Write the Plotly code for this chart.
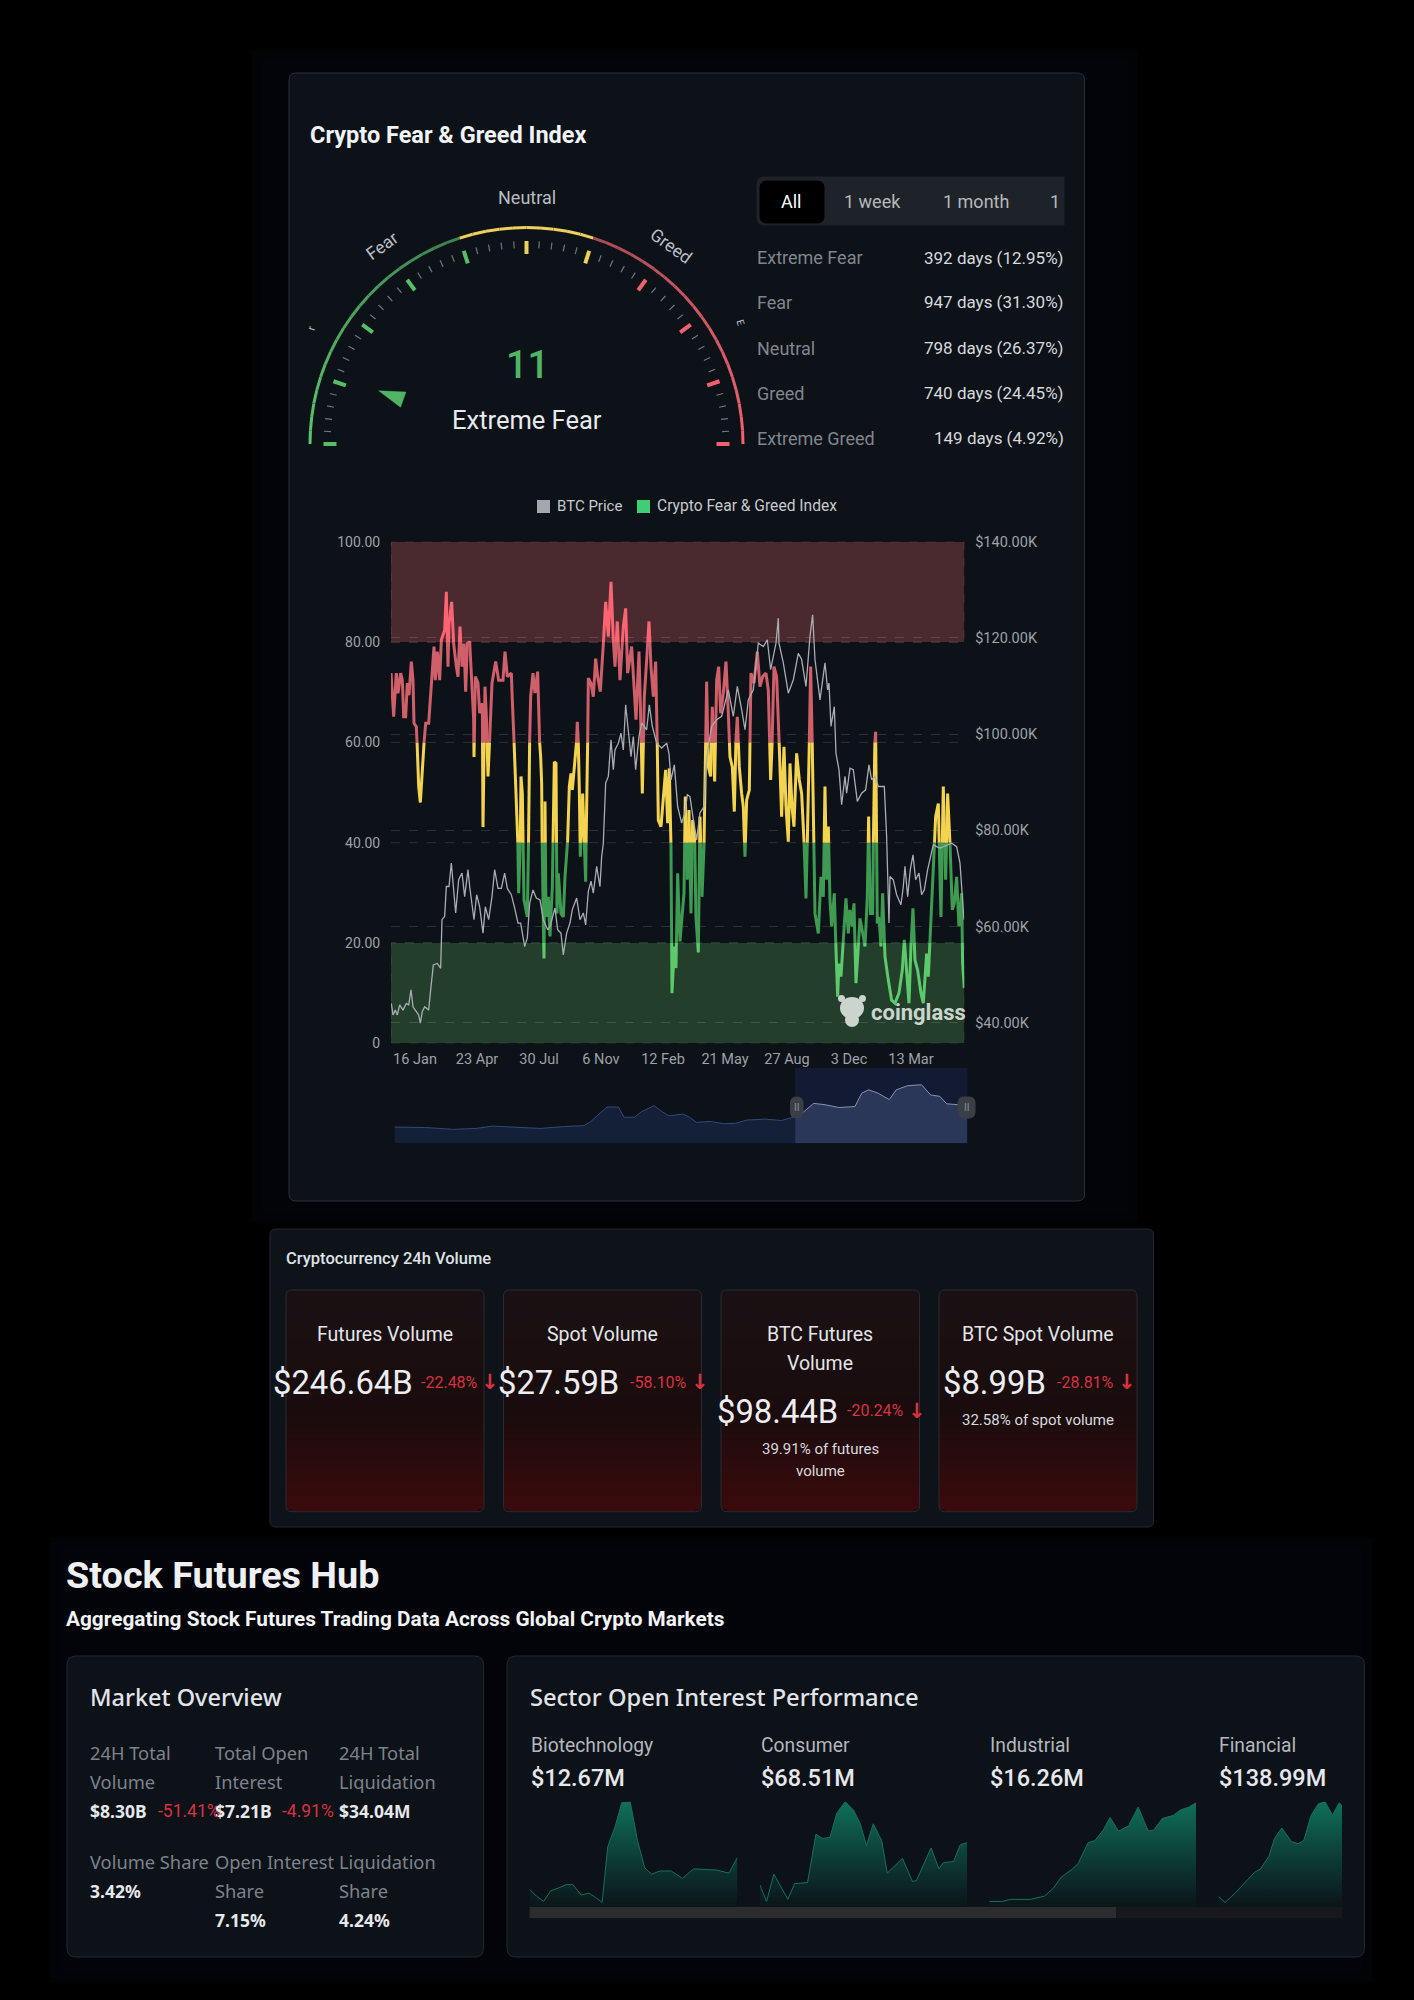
import math
import numpy as np
import plotly.graph_objects as go

W, H = 1414, 2000

# ---------- data ----------
gauge_value = 11
gauge_label = "Extreme Fear"
dist_names = ["Extreme Fear", "Fear", "Neutral", "Greed", "Extreme Greed"]
dist_values = ["392 days (12.95%)", "947 days (31.30%)", "798 days (26.37%)", "740 days (24.45%)", "149 days (4.92%)"]
tab_labels = ["All", "1 week", "1 month", "1"]

x_tick_pos = [72, 258, 444, 630, 816, 1002, 1188, 1374, 1560]
x_tick_text = ["16 Jan", "23 Apr", "30 Jul", "6 Nov", "12 Feb", "21 May", "27 Aug", "3 Dec", "13 Mar"]
left_ticks = [0, 20, 40, 60, 80, 100]
left_tick_text = ["0", "20.00", "40.00", "60.00", "80.00", "100.00"]
right_ticks = [40, 60, 80, 100, 120, 140]
right_tick_text = ["$40.00K", "$60.00K", "$80.00K", "$100.00K", "$120.00K", "$140.00K"]

fg_t = [0,8,16,21,29,34,38,44,49,54,61,66,69,76,81,83,88,94,99,104,113,119,124,129,133,139,146,151,161,166,171,174,182,188,196,201,207,213,219,224,229,236,241,248,249,253,261,266,274,276,282,287,291,299,303,314,323,336,342,349,361,363,369,373,379,383,388,390,394,399,409,414,416,419,426,431,
        432,440,446,449,452,455,459,462,465,472,477,484,490,495,498,502,510,517,522,530,535,540,544,550,556,559,562,565,568,575,579,584,587,590,592,600,607,614,620,628,635,644,652,660,667,672,679,687,697,704,710,722,730,735,744,750,754,760,767,774,780,787,794,799,802,810,817,824,830,835,840,843,850,855,860,867,
        879,883,889,894,900,905,911,915,922,927,933,939,947,952,959,964,971,977,983,989,997,1005,1012,1017,1024,1030,1035,1039,1045,1052,1057,1062,1067,1075,1080,1089,1099,1107,1115,1125,1132,1139,1143,1149,1157,1165,1172,1179,1185,1192,1197,1203,1209,1217,1225,1232,1239,1245,1252,1259,1264,1272,1282,1290,1297,
        1302,1307,1312,1317,1322,1330,1335,1340,1344,1350,1357,1365,1372,1377,1384,1389,1395,1402,1407,1417,1422,1429,1433,1438,1445,1450,1454,1459,1464,1470,1475,1482,1492,1502,1512,1524,1534,1540,1547,1554,1560,1566,1572,1580,1590,1597,1607,1612,1618,1627,1634,1642,1650,1657,1664,1670,1677,1684,1690,1697,1704,1712,1715,1720]
fg_val = [73.8,65.1,73.8,69.8,73.8,72.4,65.1,65.1,71.8,69.4,76.1,72.4,63.8,63.1,56.1,51.2,48.0,54.2,59.8,63.8,63.8,69.8,73.1,79.1,72.4,78.1,72.4,80.4,82.4,90.0,75.1,83.7,88.0,79.7,75.1,73.1,83.1,75.1,79.7,70.1,79.7,80.1,74.4,64.5,57.1,73.1,71.8,65.8,67.8,43.1,71.1,63.8,53.2,65.1,71.8,76.1,72.4,72.4,78.1,73.1,73.8,70.1,60.5,53.2,45.8,29.9,40.5,53.2,49.8,28.6,25.2,45.8,60.5,69.1,73.8,69.8,
         69.8,74.1,59.8,57.1,51.8,29.2,16.9,48.2,25.2,29.2,21.3,31.2,56.1,55.8,25.9,33.9,25.9,25.2,33.2,40.5,51.2,53.8,50.5,54.5,59.1,64.1,59.8,50.5,37.2,49.8,41.9,32.2,49.8,59.8,72.8,71.8,69.1,76.7,73.1,70.1,77.1,88.0,81.1,92.0,80.4,75.1,84.1,72.4,83.1,86.7,73.8,79.1,70.4,64.5,78.1,63.1,49.8,69.1,76.4,84.1,75.1,69.1,76.1,59.1,44.5,43.2,49.2,54.5,43.9,54.8,39.2,10.0,19.3,15.0,33.9,20.3,
         29.9,49.2,32.6,46.5,25.9,44.5,40.5,25.2,18.1,45.2,29.2,39.2,72.1,55.1,53.2,67.1,52.2,72.4,75.1,65.8,69.8,76.1,65.8,57.1,55.1,46.2,60.5,65.1,55.1,49.8,47.2,37.2,48.5,50.5,73.8,71.8,78.1,71.1,73.1,73.8,70.4,52.5,59.1,75.1,73.1,59.1,45.2,59.1,47.2,40.2,55.8,47.2,43.2,57.8,52.5,49.8,40.5,28.9,48.5,75.1,59.1,25.9,21.9,33.2,29.2,
         51.2,32.6,43.2,28.6,23.3,29.9,18.6,9.3,15.9,13.3,20.6,28.9,21.9,26.6,23.3,27.9,12.0,19.3,24.9,21.3,19.3,29.2,45.2,25.9,25.9,58.5,62.1,23.9,25.2,19.3,29.9,17.3,12.6,8.6,8.0,10.0,14.6,20.6,14.0,8.0,19.3,26.9,16.6,14.6,10.0,8.0,17.9,13.3,21.9,34.6,45.2,47.8,25.2,51.2,32.6,49.8,39.9,26.6,27.9,33.2,23.3,29.9,15.9,11.0]

btc_t = [1,6,13,19,26,36,46,53,60,66,76,83,88,94,101,113,119,127,139,149,153,161,166,174,181,188,194,203,213,221,231,236,249,257,266,276,283,293,303,311,321,331,341,349,361,371,381,389,396,401,409,416,426,436,
         447,457,470,477,492,500,510,517,527,537,544,557,567,577,584,592,600,607,617,627,632,637,644,652,660,667,672,682,690,697,704,712,720,727,734,744,752,767,775,784,797,812,827,834,840,850,860,872,882,
         889,897,907,917,927,939,945,952,962,977,992,1012,1027,1039,1052,1062,1072,1087,1102,1117,1129,1139,1155,1162,1164,1177,1192,1207,1222,1232,1245,1257,1265,1272,1287,1302,
         1310,1314,1320,1330,1335,1344,1352,1362,1367,1377,1387,1399,1412,1424,1434,1442,1452,1462,1480,1487,1494,1497,1507,1517,1530,1537,1542,1550,1558,1566,1574,1584,1592,1600,1610,1620,1627,1637,1647,1682,1697,1707,1714,1719]
btc_val = [44.0,41.6,42.6,41.6,43.7,42.6,44.0,43.7,46.8,43.3,42.3,41.6,39.9,42.3,43.3,42.6,46.8,52.0,52.3,51.3,61.4,62.1,68.3,68.3,73.2,67.6,62.8,69.7,71.1,66.2,71.8,68.3,61.4,66.6,64.1,58.6,64.1,61.4,66.2,71.8,67.9,67.9,71.1,67.9,66.6,63.8,60.7,60.7,57.9,55.8,57.6,64.8,67.6,65.9,
           65.5,61.4,59.3,60.0,63.8,59.3,58.6,54.1,58.6,60.7,63.5,65.9,61.4,62.8,60.3,67.3,69.4,66.9,72.5,68.3,74.5,77.3,89.8,91.2,98.8,92.6,96.7,98.1,100.2,96.7,106.1,100.9,95.3,99.5,92.6,99.5,102.3,100.9,106.1,101.6,98.1,97.1,98.1,96.0,90.5,93.6,84.9,81.5,83.6,
           87.4,87.0,82.2,78.0,83.6,84.9,93.3,97.4,101.6,103.0,103.7,109.2,103.7,109.9,105.1,100.9,107.1,109.2,118.9,118.2,119.6,113.4,118.9,124.1,118.9,114.8,108.5,111.3,116.8,115.5,109.9,120.3,124.8,115.5,107.1,114.8,
           109.2,110.6,101.6,105.7,96.0,92.6,85.3,91.2,87.7,92.9,92.6,86.0,87.7,88.4,93.6,90.5,91.2,89.1,89.1,78.7,60.7,70.4,69.7,66.6,64.5,68.3,72.5,66.2,71.8,74.9,69.7,71.1,66.6,67.6,71.8,74.5,77.0,76.6,76.3,77.3,76.6,73.2,66.2,61.4]

mini_t = [162,230,290,340,375,430,480,530,575,590,605,625,650,662,685,700,728,745,760,790,805,820,850,880,905,930,970,1005,1030,1035,
          1045,1060,1075,1100,1130,1165,1180,1195,1215,1240,1255,1280,1310,1330,1350,1365,1390,1398,1410]
mini_val = [35,34,30,32,37,35,32,36,38,47,61,78,78,56,56,68,81,68,59,63,56,45,47,42,43,50,52,49,56,58,
            61,73,86,83,77,79,108,115,108,94,115,124,126,104,101,85,83,90,85]
mini_split = 1035

card_titles = [["Futures Volume"], ["Spot Volume"], ["BTC Futures", "Volume"], ["BTC Spot Volume"]]
card_values = ["$246.64B", "$27.59B", "$98.44B", "$8.99B"]
card_changes = ["-22.48%", "-58.10%", "-20.24%", "-28.81%"]
card_notes = [[], [], ["39.91% of futures", "volume"], ["32.58% of spot volume"]]

overview_labels = [["24H Total", "Volume"], ["Total Open", "Interest"], ["24H Total", "Liquidation"],
                   ["Volume Share"], ["Open Interest", "Share"], ["Liquidation", "Share"]]
overview_values = ["$8.30B", "$7.21B", "$34.04M", "3.42%", "7.15%", "4.24%"]
overview_changes = ["-51.41%", "-4.91%", "", "", "", ""]

sector_names = ["Biotechnology", "Consumer", "Industrial", "Financial"]
sector_values = ["$12.67M", "$68.51M", "$16.26M", "$138.99M"]
bio_t = [53,65,78,90,105,118,130,145,158,170,182,192,205,217,232,245,258,270,285,305,325,345,385,408,423]
bio_v = [16.5,10,5,15,18,21,21,11,13,9,4,57,76,99,100,63,37,31,34,34,27,36,35,32,47]
con_t = [463,475,488,500,513,525,548,563,575,588,600,615,630,642,653,665,680,690,717,735,742,768,782,790,808,820,832]
con_v = [21,5,31,19,7,22,23,69,65,66,89,100,92,79,58,79,63,32,46,24,25,56,36,42,43,59,61]
ind_t = [872,895,910,945,970,985,1000,1020,1030,1048,1060,1075,1087,1102,1120,1137,1155,1165,1180,1200,1212,1228,1240]
ind_v = [5,5,7,7,10,17,28,36,41,61,63,73,85,72,77,95,72,73,84,87,92,95,99]
fin_t = [1280,1292,1310,1330,1345,1355,1370,1380,1393,1410,1422,1432,1445,1458,1470,1483,1495,1500]
fin_v = [10,4,13,24,33,36,48,65,75,62,60,63,87,98,100,87,99,96]

# ---------- helpers ----------
FONT = "Roboto"
SANS = "Noto Sans"
PANEL = "#0d1118"
BORDER = "#262a31"
RED = "#d8323f"

def px(x): return x / W
def py(y): return 1 - y / H
def dom_x(a, b): return [a / W, b / W]
def dom_y(top, bottom): return [1 - bottom / H, 1 - top / H]

shapes, notes = [], []

def rrect(x0, y0, x1, y1, r=8, fill=PANEL, line=BORDER, lw=1, layer="below"):
    a, b, c, d = px(x0), py(y0), px(x1), py(y1)
    rx, ry = r / W, r / H
    path = (f"M{a+rx},{b} L{c-rx},{b} Q{c},{b} {c},{b-ry} L{c},{d+ry} Q{c},{d} {c-rx},{d} "
            f"L{a+rx},{d} Q{a},{d} {a},{d+ry} L{a},{b-ry} Q{a},{b} {a+rx},{b} Z")
    shapes.append(dict(type="path", xref="paper", yref="paper", path=path, fillcolor=fill,
                       line=dict(color=line, width=lw), layer=layer))

def rect(x0, y0, x1, y1, fill, layer="below"):
    shapes.append(dict(type="rect", xref="paper", yref="paper", x0=px(x0), x1=px(x1), y0=py(y1), y1=py(y0),
                       fillcolor=fill, line=dict(width=0), layer=layer))

def oval(x0, y0, x1, y1, fill, layer="above"):
    shapes.append(dict(type="circle", xref="paper", yref="paper", x0=px(x0), x1=px(x1), y0=py(y1), y1=py(y0),
                       fillcolor=fill, line=dict(width=0), layer=layer))

def text(x, y, s, size, color, anchor="left", family=FONT, weight=400, angle=0):
    notes.append(dict(xref="paper", yref="paper", x=px(x), y=py(y), text=s, showarrow=False,
                      xanchor=anchor, yanchor="middle", textangle=angle, borderpad=0, borderwidth=0,
                      font=dict(family=family, size=size, color=color, weight=weight)))

def mix(c1, c2, t):
    a = [int(c1[i:i+2], 16) for i in (1, 3, 5)]
    b = [int(c2[i:i+2], 16) for i in (1, 3, 5)]
    return "#%02x%02x%02x" % tuple(round(a[i] + (b[i] - a[i]) * t) for i in range(3))

def clip_band(t, v, lo, hi):
    xs, ys, last = [], [], None
    for i in range(len(t) - 1):
        t0, v0, t1, v1 = t[i], v[i], t[i + 1], v[i + 1]
        if max(v0, v1) < lo or min(v0, v1) > hi or v0 == v1 and not (lo <= v0 <= hi):
            continue
        def at(val): return t0 + (val - v0) / (v1 - v0) * (t1 - t0)
        a = (t0, v0)
        if v0 < lo: a = (at(lo), lo)
        if v0 > hi: a = (at(hi), hi)
        b = (t1, v1)
        if v1 < lo: b = (at(lo), lo)
        if v1 > hi: b = (at(hi), hi)
        if last != a:
            xs.append(None); ys.append(None)
            xs.append(a[0]); ys.append(a[1])
        xs.append(b[0]); ys.append(b[1])
        last = b
    return xs, ys

fig = go.Figure()

# ---------- page panels ----------
for grow, col in [(10, "#020306"), (0, "#03040a")]:
    rect(262 - grow, 60 - grow, 1128 + grow, 1212 + grow, col)
    rect(60 - grow, 1548 - grow, 1362 + grow, 1972 + grow, col)
rrect(289, 73, 1084.5, 1201, r=7, fill=PANEL, line="#2a2f36")
rrect(270, 1229, 1153.5, 1527, r=6, fill="#0e1219", line="#23272e")
rrect(67, 1656, 483.5, 1957, r=9, fill=PANEL, line="#23272e")
rrect(507, 1656, 1364.5, 1957, r=9, fill=PANEL, line="#23272e")

# ---------- gauge ----------
text(310, 135, "Crypto Fear & Greed Index", 23.5, "#f1f3f5", weight=700)
R_ARC = 216.5

def pol(v, r):
    th = math.pi * (1 - np.asarray(v, dtype=float) / 100)
    return r * np.cos(th), r * np.sin(th)

def arc_color(v):
    if v < 40:
        return mix("#5cc76c", "#3f7f50", v / 40)
    if v < 60:
        return "#ecd05c"
    return mix("#a44d57", "#f4626f", (v - 60) / 40)

for v0 in range(0, 100, 2):
    vs = np.linspace(v0, v0 + 2, 4)
    ax_, ay_ = pol(vs, R_ARC)
    fig.add_trace(go.Scatter(x=ax_, y=ay_, mode="lines", line=dict(color=arc_color(v0 + 1), width=3),
                             xaxis="x", yaxis="y", hoverinfo="skip", showlegend=False))

mx, my = [], []
for v in range(0, 101, 2):
    if v % 10:
        a1, b1 = pol(v, 196)
        a2, b2 = pol(v, 203)
        mx += [a1, a2, None]; my += [b1, b2, None]
fig.add_trace(go.Scatter(x=mx, y=my, mode="lines", line=dict(color="#72767c", width=1.2),
                         xaxis="x", yaxis="y", hoverinfo="skip", showlegend=False))
for v in range(0, 101, 10):
    col = "#58bd69" if v <= 40 else ("#ecd05c" if v <= 60 else "#f0606e")
    a1, b1 = pol(v, 190)
    a2, b2 = pol(v, 203)
    fig.add_trace(go.Scatter(x=[a1, a2], y=[b1, b2], mode="lines", line=dict(color=col, width=4),
                             xaxis="x", yaxis="y", hoverinfo="skip", showlegend=False))

tipx, tipy = pol(gauge_value, 157)
bx, by = pol(gauge_value, 131)
th = math.pi * (1 - gauge_value / 100)
nx, ny = -math.sin(th) * 8, math.cos(th) * 8
fig.add_trace(go.Scatter(x=[tipx, bx + nx, bx - nx, tipx], y=[tipy, by + ny, by - ny, tipy], mode="lines",
                         fill="toself", fillcolor="#4fb565", line=dict(color="#4fb565", width=0.5),
                         xaxis="x", yaxis="y", hoverinfo="skip", showlegend=False))

text(527, 198, "Neutral", 18, "#b9bdc3", "center")
text(382, 246, "Fear", 17.5, "#b9bdc3", "center", angle=-36)
text(671, 246, "Greed", 17.5, "#b9bdc3", "center", angle=36)
text(311, 328, "r", 11, "#b9bdc3", "center", angle=-72)
text(740, 323, "E", 10, "#b9bdc3", "center", angle=72)
text(527, 364.5, str(gauge_value), 38, "#4fb565", "center", weight=500)
text(527, 420, gauge_label, 25.5, "#e8eaed", "center")

# tabs and distribution table
rrect(757, 177, 1075, 225, r=7, fill="#1e2329", line="#1e2329")
rect(1064.5, 170, 1084, 232, PANEL)
rrect(760, 181, 824, 223, r=7, fill="#000000", line="#000000")
for s, xc, c in zip(tab_labels, [791.5, 872.6, 975.6, 1055], ["#ffffff", "#b4b8bd", "#b4b8bd", "#b4b8bd"]):
    text(xc, 201, s, 18, c, "center")
for s, val, yy in zip(dist_names, dist_values, [257.7, 302.3, 348.3, 393.3, 438.3]):
    text(757, yy, s, 18, "#80868e")
    text(1064, yy, val, 17, "#d6d9dd", "right")

# ---------- main chart ----------
rect(537, 500, 550, 513, "#a4a7ab")
text(556.5, 506, "BTC Price", 15, "#c6c9cd")
rect(637, 500, 650, 513, "#3ecf74")
text(656.5, 506, "Crypto Fear & Greed Index", 15.6, "#c6c9cd")

shapes.append(dict(type="rect", xref="x2", yref="y2", x0=0, x1=1720, y0=80, y1=100, fillcolor="#4a2a2e",
                   line=dict(color="#6b4044", width=1, dash="dash"), layer="below"))
shapes.append(dict(type="rect", xref="x2", yref="y2", x0=0, x1=1720, y0=0, y1=20, fillcolor="#233e2b",
                   line=dict(color="#38563f", width=1, dash="dash"), layer="below"))

bands = [(0, 20, "#5cc96a", "Extreme Fear"), (20, 40, "#3f9b52", "Fear"), (40, 60, "#f4d34f", "Neutral"),
         (60, 80, "#cf5f69", "Greed"), (80, 100, "#fb6473", "Extreme Greed")]
for lo, hi, col, nm in bands:
    bx_, by_ = clip_band(fg_t, fg_val, lo, hi)
    fig.add_trace(go.Scatter(x=bx_, y=by_, mode="lines", line=dict(color=col, width=3), name=nm,
                             xaxis="x2", yaxis="y2", hoverinfo="skip", showlegend=False, connectgaps=False))
fig.add_trace(go.Scatter(x=btc_t, y=btc_val, mode="lines", line=dict(color="#a9adb2", width=1.3), name="BTC Price",
                         xaxis="x2", yaxis="y3", hoverinfo="skip", showlegend=False))

# watermark
LOGO = "#ccd4ce"
oval(840, 997, 864, 1019, LOGO)
oval(845, 1013, 859, 1027, LOGO)
oval(838, 995, 845, 1002, LOGO)
oval(859, 995, 866, 1002, LOGO)
text(918, 1013, "coinglass", 22, LOGO, "center", weight=700)

# ---------- overview slider ----------
rect(795, 1068, 967.4, 1143.3, "#121a34")
k = mini_t.index(mini_split)
fig.add_trace(go.Scatter(x=mini_t[:k + 1], y=mini_val[:k + 1], mode="lines", fill="tozeroy", fillcolor="#141f38",
                         line=dict(color="#2f4a7c", width=1), xaxis="x3", yaxis="y4", hoverinfo="skip", showlegend=False))
fig.add_trace(go.Scatter(x=mini_t[k:], y=mini_val[k:], mode="lines", fill="tozeroy", fillcolor="#2b3759",
                         line=dict(color="#8793b0", width=1), xaxis="x3", yaxis="y4", hoverinfo="skip", showlegend=False))
for a, b in [(790.5, 803), (958, 975)]:
    rrect(a, 1097, b, 1118, r=6, fill="#3a3e45", line="#3a3e45", layer="above")
    text((a + b) / 2, 1107.5, "II", 10, "#8a8e94", "center")

# ---------- 24h volume cards ----------
text(285.5, 1258, "Cryptocurrency 24h Volume", 16.5, "#dfe2e6", weight=500)
card_x = [(286, 484), (503.5, 701.5), (721, 919.5), (939, 1137)]
val_x = [272.5, 498, 716.5, 943]
chg_x = [421, 630, 847, 1056.8]
arr_x = [489.7, 700, 917, 1127]
val_y = [1383, 1383, 1411.5, 1383]
CTOP, CBOT, STEP, RAD = 1290, 1511.7, 3, 6
for i, (a, b) in enumerate(card_x):
    yy = CTOP
    while yy < CBOT:
        t = (yy - CTOP) / (CBOT - CTOP)
        col = mix("#1a1013", "#1a0c0d", t / 0.55) if t < 0.55 else mix("#1a0c0d", "#3c0a0c", (t - 0.55) / 0.45)
        d = min(yy - CTOP, CBOT - yy - STEP)
        ins = RAD - math.sqrt(max(RAD ** 2 - (RAD - d) ** 2, 0)) if d < RAD else 0
        rect(a + ins, yy, b - ins, min(yy + STEP + 0.3, CBOT), col)
        yy += STEP
    rrect(a, CTOP, b, CBOT, r=RAD, fill="rgba(0,0,0,0)", line="#2b2a2e")
    xc = (a + b) / 2
    for j, s in enumerate(card_titles[i]):
        text(xc, 1334 + j * 29, s, 19.5, "#e3e5e8", "center")
    text(val_x[i], val_y[i], card_values[i], 32.8, "#eceef1")
    text(chg_x[i], val_y[i] - 1, card_changes[i], 16, RED)
    text(arr_x[i], val_y[i] - 1, "↓", 21, RED, "center", family="DejaVu Sans", weight=700)
    ny0 = 1449 if len(card_notes[i]) == 2 else 1420
    for j, s in enumerate(card_notes[i]):
        text(xc, ny0 + j * 22, s, 15, "#d7dade", "center")

# ---------- Stock Futures Hub ----------
text(66, 1575, "Stock Futures Hub", 37.8, "#eef0f3", weight=700)
text(66, 1619, "Aggregating Stock Futures Trading Data Across Global Crypto Markets", 20.8, "#f2f3f5", weight=700)

text(90, 1696.5, "Market Overview", 23.5, "#e2e4e8", family=SANS, weight=500)
col_x = [90, 214.7, 338.7]
GREY = "#7d838c"
for i in range(6):
    xx = col_x[i % 3]
    y0 = 1752.7 if i < 3 else 1861.7
    for j, s in enumerate(overview_labels[i]):
        text(xx, y0 + j * 29, s, 18.3, GREY, family=SANS)
    vy = y0 + len(overview_labels[i]) * 29
    text(xx, vy, overview_values[i], 17.5, "#e6e8eb", family=SANS, weight=700)
text(158, 1810.7, overview_changes[0], 17.5, RED)
text(282, 1810.7, overview_changes[1], 17.5, RED)

text(530, 1696.5, "Sector Open Interest Performance", 23.7, "#e2e4e8", family=SANS, weight=500)
sector_x = [530.5, 760.5, 990, 1219]
for s, val, xx in zip(sector_names, sector_values, sector_x):
    text(xx, 1745.7, s, 19.3, "#b3b7bd")
    text(xx, 1778, val, 23.5, "#e6e8eb", weight=500)

spark_sets = [(bio_t, bio_v, (529.7, 737.4)), (con_t, con_v, (759.8, 967)), (ind_t, ind_v, (989.3, 1196)), (fin_t, fin_v, (1218.3, 1342))]
for i, (st, sv, _) in enumerate(spark_sets):
    fig.add_trace(go.Scatter(x=st, y=sv, mode="lines", fill="tozeroy",
                             fillgradient=dict(type="vertical", start=0, stop=100,
                                               colorscale=[[0, "#0b1518"], [0.5, "#0d3f38"], [1, "#0f7058"]]),
                             line=dict(color="#16705a", width=1), xaxis=f"x{4+i}", yaxis=f"y{5+i}",
                             hoverinfo="skip", showlegend=False))
rect(529.7, 1906.7, 1342, 1918, "#16181d")
rect(529.7, 1906.7, 1116, 1918, "#2a2c30")

# ---------- axes ----------
hidden = dict(visible=False, showgrid=False, zeroline=False, fixedrange=True)
layout_axes = dict(
    xaxis=dict(hidden, domain=dom_x(300, 753), range=[-226.5, 226.5], anchor="y"),
    yaxis=dict(hidden, domain=dom_y(210, 460), range=[-16, 234], anchor="x"),
    xaxis2=dict(domain=dom_x(391, 964.3), range=[0, 1720], anchor="y2", tickvals=x_tick_pos, ticktext=x_tick_text,
                showgrid=False, zeroline=False, showline=False, ticks="outside", ticklen=2, tickcolor="rgba(0,0,0,0)",
                tickfont=dict(family=FONT, size=14.5, color="#9da2a8")),
    yaxis2=dict(domain=dom_y(541.7, 1043.3), range=[0, 100], anchor="x2", tickvals=left_ticks, ticktext=left_tick_text,
                showgrid=False, zeroline=False, showline=False, ticks="outside", ticklen=7, tickcolor="rgba(0,0,0,0)",
                tickfont=dict(family=FONT, size=14, color="#9da2a8")),
    yaxis3=dict(domain=dom_y(541.7, 1043.3), range=[35.7, 140], anchor="x2", overlaying="y2", side="right",
                tickvals=right_ticks, ticktext=right_tick_text, showgrid=True, gridcolor="rgba(255,255,255,0.13)",
                griddash="dash", gridwidth=1, zeroline=False, showline=False, ticks="outside", ticklen=7,
                tickcolor="rgba(0,0,0,0)", tickfont=dict(family=FONT, size=14.5, color="#9da2a8")),
    xaxis3=dict(hidden, domain=dom_x(394.4, 967.4), range=[162, 1410], anchor="y4"),
    yaxis4=dict(hidden, domain=dom_y(1068, 1143.3), range=[0, 162], anchor="x3"),
)
for i, (st, sv, (a, b)) in enumerate(spark_sets):
    layout_axes[f"xaxis{4+i}"] = dict(hidden, domain=dom_x(a, b), range=[st[0], st[-1]], anchor=f"y{5+i}")
    layout_axes[f"yaxis{5+i}"] = dict(hidden, domain=dom_y(1801.7, 1906.7), range=[0, 100], anchor=f"x{4+i}")

# dashed guide lines on the left axis at 40 and 60
for lvl in (40, 60):
    shapes.append(dict(type="line", xref="x2", yref="y2", x0=0, x1=1720, y0=lvl, y1=lvl,
                       line=dict(color="rgba(255,255,255,0.13)", width=1, dash="dash"), layer="below"))

fig.update_layout(width=W, height=H, margin=dict(l=0, r=0, t=0, b=0, autoexpand=False), paper_bgcolor="#000000",
                  plot_bgcolor="rgba(0,0,0,0)", showlegend=False, shapes=shapes, annotations=notes,
                  font=dict(family=FONT), **layout_axes)

fig.write_html("out.html", config=dict(displayModeBar=False, responsive=False),
               post_script="document.body.style.margin='0';document.body.style.background='#000';document.documentElement.style.overflow='hidden';")
